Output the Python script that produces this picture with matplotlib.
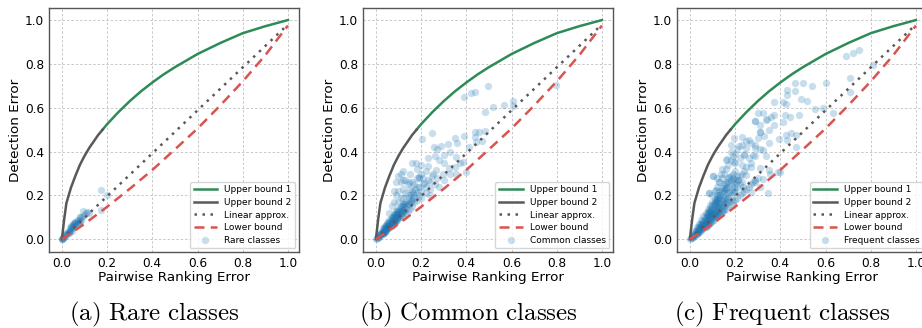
import numpy as np
import matplotlib
matplotlib.use('Agg')
import matplotlib.pyplot as plt

plt.rcParams['mathtext.fontset'] = 'cm'

# bound curves
ub1_x = [0.18, 0.2, 0.25, 0.3, 0.35, 0.4, 0.45, 0.5, 0.6, 0.7, 0.8, 0.9, 1.0]
ub1_y = [0.50, 0.525, 0.58, 0.63, 0.675, 0.715, 0.752, 0.785, 0.845, 0.895, 0.94, 0.972, 1.0]
ub2_x = [0.0, 0.01, 0.02, 0.04, 0.06, 0.08, 0.1, 0.12, 0.14, 0.16, 0.18]
ub2_y = [0.0, 0.09, 0.165, 0.235, 0.29, 0.34, 0.38, 0.415, 0.445, 0.475, 0.50]
lin_x = [0.0, 1.0]
lin_y = [0.0, 0.98]
lb_x = [0.0, 0.1, 0.2, 0.3, 0.4, 0.5, 0.6, 0.7, 0.8, 0.9, 1.0]
lb_y = [0.0, 0.07, 0.148, 0.23, 0.316, 0.41, 0.505, 0.61, 0.72, 0.84, 0.975]

rare_pts = [
    (0, 0), (0.005, 0.006), (0.01, 0.01), (0.01, 0.015), (0.015, 0.02), (0.02, 0.022), (0.02, 0.03),
    (0.025, 0.028), (0.03, 0.035), (0.03, 0.04), (0.035, 0.04), (0.04, 0.045), (0.04, 0.055),
    (0.045, 0.05), (0.05, 0.055), (0.05, 0.07), (0.055, 0.06), (0.06, 0.065), (0.06, 0.075),
    (0.065, 0.07), (0.07, 0.075), (0.07, 0.09), (0.075, 0.08), (0.08, 0.085), (0.08, 0.1),
    (0.085, 0.09), (0.09, 0.1), (0.1, 0.11), (0.105, 0.12), (0.11, 0.125), (0.06, 0.08),
    (0.05, 0.065), (0.04, 0.06), (0.093, 0.13), (0.081, 0.10), (0.171, 0.227), (0.2, 0.2),
    (0.171, 0.133), (0.12, 0.12), (0.0, 0.0), (0.03, 0.03), (0.02, 0.02), (0.045, 0.04),
    (0.0, 0.0), (0.005, 0.004), (0.035, 0.05), (0.055, 0.075), (0.065, 0.085),
]

common_pts = [
    (0, 0), (0.005, 0.005), (0.01, 0.008), (0.01, 0.015), (0.015, 0.012), (0.02, 0.018), (0.02, 0.03),
    (0.025, 0.022), (0.03, 0.025), (0.03, 0.04), (0.035, 0.03), (0.04, 0.035), (0.04, 0.05),
    (0.045, 0.04), (0.045, 0.06), (0.05, 0.045), (0.05, 0.06), (0.055, 0.05), (0.055, 0.07),
    (0.06, 0.055), (0.06, 0.075), (0.065, 0.06), (0.065, 0.085), (0.07, 0.06), (0.07, 0.08),
    (0.07, 0.1), (0.075, 0.07), (0.075, 0.09), (0.08, 0.07), (0.08, 0.095), (0.08, 0.115),
    (0.085, 0.08), (0.085, 0.1), (0.09, 0.085), (0.09, 0.11), (0.09, 0.13), (0.095, 0.09),
    (0.095, 0.12), (0.1, 0.095), (0.1, 0.115), (0.1, 0.14), (0.105, 0.1), (0.105, 0.13),
    (0.11, 0.11), (0.11, 0.15), (0.115, 0.12), (0.12, 0.1), (0.12, 0.135), (0.12, 0.16),
    (0.125, 0.13), (0.13, 0.12), (0.13, 0.15), (0.135, 0.17), (0.14, 0.13), (0.14, 0.16),
    (0.145, 0.19), (0.15, 0.14), (0.15, 0.175), (0.155, 0.2), (0.16, 0.15), (0.16, 0.18),
    (0.165, 0.21), (0.17, 0.17), (0.17, 0.2), (0.175, 0.23), (0.18, 0.18), (0.18, 0.21),
    (0.19, 0.2), (0.19, 0.24), (0.2, 0.19), (0.2, 0.22), (0.21, 0.25), (0.22, 0.21),
    (0.22, 0.24), (0.23, 0.27), (0.24, 0.23), (0.24, 0.26), (0.25, 0.29), (0.26, 0.25),
    (0.27, 0.28),
    (0.06, 0.12), (0.07, 0.15), (0.08, 0.17), (0.09, 0.2), (0.1, 0.22), (0.11, 0.19),
    (0.12, 0.23), (0.13, 0.21), (0.14, 0.25), (0.15, 0.23), (0.1, 0.17), (0.12, 0.19),
    (0.16, 0.26), (0.18, 0.28), (0.19, 0.28), (0.2, 0.3), (0.22, 0.31), (0.21, 0.28),
    (0.17, 0.25), (0.13, 0.27), (0.11, 0.3), (0.09, 0.26), (0.08, 0.22),
    (0.035, 0.045), (0.045, 0.05), (0.055, 0.06), (0.065, 0.07), (0.075, 0.08), (0.085, 0.09),
    (0.095, 0.1), (0.03, 0.03), (0.04, 0.04), (0.05, 0.05), (0.06, 0.065), (0.07, 0.07),
    (0.08, 0.085), (0.09, 0.095), (0.1, 0.105), (0.025, 0.03), (0.035, 0.035), (0.045, 0.045),
    (0.055, 0.055), (0.065, 0.065), (0.075, 0.075), (0.02, 0.02), (0.015, 0.02), (0.06, 0.09),
    (0.07, 0.095), (0.08, 0.105), (0.05, 0.075), (0.04, 0.06), (0.03, 0.05), (0.11, 0.13),
    (0.12, 0.145), (0.13, 0.16), (0.1, 0.125), (0.09, 0.115),
    (0.01, 0.012), (0.02, 0.024), (0.03, 0.034), (0.04, 0.044), (0.05, 0.052), (0.06, 0.06),
    (0.07, 0.068), (0.08, 0.078), (0.09, 0.09), (0.1, 0.1), (0.11, 0.118), (0.12, 0.125),
    (0.025, 0.035), (0.035, 0.05), (0.045, 0.065), (0.055, 0.08), (0.065, 0.09), (0.075, 0.1),
    (0.085, 0.11), (0.095, 0.13), (0.105, 0.14), (0.115, 0.15), (0.125, 0.16), (0.135, 0.14),
    (0.145, 0.16), (0.155, 0.17), (0.165, 0.19), (0.14, 0.2), (0.16, 0.22), (0.18, 0.24),
    (0.248, 0.483), (0.204, 0.456), (0.258, 0.422), (0.288, 0.425), (0.317, 0.434),
    (0.351, 0.463), (0.391, 0.473), (0.437, 0.465), (0.457, 0.489), (0.481, 0.494),
    (0.442, 0.445), (0.302, 0.384), (0.354, 0.376), (0.386, 0.351), (0.398, 0.308),
    (0.354, 0.297), (0.322, 0.323), (0.295, 0.30), (0.265, 0.316), (0.229, 0.334),
    (0.177, 0.346), (0.159, 0.346), (0.121, 0.313), (0.096, 0.288), (0.111, 0.262),
    (0.147, 0.262), (0.192, 0.285), (0.214, 0.258), (0.251, 0.30),
    (0.497, 0.70), (0.438, 0.672), (0.419, 0.666), (0.391, 0.648), (0.605, 0.633),
    (0.568, 0.611), (0.519, 0.605), (0.482, 0.581), (0.796, 0.703), (0.605, 0.61),
    (0.28, 0.36), (0.33, 0.4), (0.36, 0.44), (0.26, 0.38), (0.3, 0.35), (0.35, 0.33),
    (0.41, 0.42), (0.44, 0.49), (0.47, 0.45), (0.2, 0.34), (0.23, 0.37), (0.27, 0.41),
    (0.24, 0.2), (0.28, 0.24), (0.3, 0.27), (0.33, 0.3), (0.37, 0.35), (0.12, 0.27),
    (0.15, 0.3), (0.18, 0.32),
]

frequent_pts = [
    (0, 0), (0.005, 0.004), (0.01, 0.008), (0.01, 0.014), (0.015, 0.012), (0.015, 0.02),
    (0.02, 0.016), (0.02, 0.026), (0.025, 0.02), (0.025, 0.032), (0.03, 0.025), (0.03, 0.038),
    (0.035, 0.03), (0.035, 0.045), (0.04, 0.033), (0.04, 0.05), (0.045, 0.038), (0.045, 0.058),
    (0.05, 0.042), (0.05, 0.065), (0.055, 0.047), (0.055, 0.072), (0.06, 0.05), (0.06, 0.08),
    (0.065, 0.055), (0.065, 0.088), (0.07, 0.058), (0.07, 0.095), (0.075, 0.062), (0.075, 0.105),
    (0.08, 0.066), (0.08, 0.11), (0.085, 0.072), (0.085, 0.12), (0.09, 0.075), (0.09, 0.125),
    (0.095, 0.08), (0.095, 0.135), (0.1, 0.085), (0.1, 0.14), (0.105, 0.09), (0.105, 0.15),
    (0.11, 0.095), (0.11, 0.16), (0.115, 0.1), (0.115, 0.17), (0.12, 0.105), (0.12, 0.175),
    (0.125, 0.11), (0.125, 0.185), (0.13, 0.115), (0.13, 0.19), (0.135, 0.12), (0.135, 0.2),
    (0.14, 0.125), (0.14, 0.21), (0.145, 0.13), (0.15, 0.135), (0.15, 0.22), (0.16, 0.14),
    (0.16, 0.23), (0.17, 0.15), (0.17, 0.24), (0.18, 0.16), (0.18, 0.25), (0.19, 0.17),
    (0.19, 0.26), (0.2, 0.18), (0.2, 0.27), (0.21, 0.19), (0.22, 0.2), (0.22, 0.29),
    (0.23, 0.21), (0.24, 0.22), (0.24, 0.31), (0.25, 0.23), (0.26, 0.24), (0.27, 0.25),
    (0.28, 0.26), (0.29, 0.27), (0.3, 0.28),
    (0.02, 0.04), (0.03, 0.055), (0.04, 0.07), (0.05, 0.09), (0.06, 0.105), (0.07, 0.12),
    (0.08, 0.14), (0.09, 0.155), (0.1, 0.17), (0.11, 0.185), (0.12, 0.2), (0.13, 0.22),
    (0.14, 0.235), (0.15, 0.25), (0.16, 0.26), (0.17, 0.28), (0.18, 0.29), (0.19, 0.3),
    (0.2, 0.31), (0.08, 0.09), (0.09, 0.1), (0.1, 0.11), (0.11, 0.12), (0.12, 0.13),
    (0.13, 0.145), (0.14, 0.155), (0.15, 0.165), (0.16, 0.18), (0.17, 0.19), (0.18, 0.2),
    (0.19, 0.215), (0.2, 0.225), (0.21, 0.24), (0.22, 0.25), (0.23, 0.26), (0.06, 0.065),
    (0.07, 0.075), (0.05, 0.055), (0.04, 0.045), (0.03, 0.035), (0.1, 0.12), (0.11, 0.135),
    (0.12, 0.15), (0.09, 0.11), (0.08, 0.1), (0.07, 0.085), (0.06, 0.075), (0.13, 0.165),
    (0.14, 0.18), (0.15, 0.19), (0.16, 0.2), (0.065, 0.1), (0.075, 0.115), (0.085, 0.13),
    (0.095, 0.145), (0.105, 0.16), (0.115, 0.18), (0.125, 0.195),
    (0.01, 0.011), (0.02, 0.021), (0.03, 0.03), (0.04, 0.04), (0.05, 0.05), (0.06, 0.058),
    (0.07, 0.066), (0.08, 0.076), (0.09, 0.086), (0.1, 0.096), (0.11, 0.106), (0.12, 0.116),
    (0.13, 0.13), (0.14, 0.14), (0.15, 0.15), (0.16, 0.16), (0.17, 0.17), (0.18, 0.18),
    (0.025, 0.04), (0.035, 0.055), (0.045, 0.07), (0.055, 0.085), (0.065, 0.072),
    (0.075, 0.09), (0.085, 0.1), (0.095, 0.12), (0.105, 0.125), (0.115, 0.14),
    (0.125, 0.15), (0.135, 0.16), (0.145, 0.175), (0.155, 0.185), (0.165, 0.21),
    (0.175, 0.215), (0.185, 0.23), (0.195, 0.24), (0.205, 0.255), (0.215, 0.27),
    (0.045, 0.05), (0.055, 0.06), (0.065, 0.065), (0.075, 0.08), (0.085, 0.09),
    (0.095, 0.1), (0.105, 0.11), (0.115, 0.125), (0.125, 0.14), (0.135, 0.145),
    (0.08, 0.125), (0.09, 0.14), (0.1, 0.155), (0.11, 0.17), (0.12, 0.185), (0.13, 0.2),
    (0.14, 0.22), (0.15, 0.235), (0.16, 0.25), (0.17, 0.26), (0.18, 0.27), (0.19, 0.28),
    (0.1, 0.2), (0.11, 0.22), (0.12, 0.24), (0.13, 0.26), (0.14, 0.28), (0.15, 0.3),
    (0.16, 0.32), (0.17, 0.34), (0.18, 0.36), (0.19, 0.38), (0.2, 0.39), (0.12, 0.28),
    (0.14, 0.32), (0.16, 0.36), (0.18, 0.4), (0.21, 0.41), (0.23, 0.43), (0.25, 0.45),
    (0.2, 0.35), (0.22, 0.37), (0.24, 0.39), (0.26, 0.37), (0.27, 0.44), (0.29, 0.43),
    (0.25, 0.33), (0.23, 0.3), (0.21, 0.29), (0.27, 0.35), (0.29, 0.38), (0.31, 0.41),
    (0.33, 0.47), (0.35, 0.5), (0.31, 0.52), (0.34, 0.55),
    (0.101, 0.288), (0.101, 0.288), (0.086, 0.212), (0.086, 0.212), (0.286, 0.541),
    (0.286, 0.541), (0.308, 0.491), (0.308, 0.491),
    (0.197, 0.460), (0.231, 0.465), (0.263, 0.453), (0.182, 0.430), (0.219, 0.425),
    (0.249, 0.415), (0.286, 0.415), (0.322, 0.407), (0.241, 0.384), (0.278, 0.384),
    (0.337, 0.38), (0.163, 0.364), (0.197, 0.354), (0.231, 0.338), (0.271, 0.331),
    (0.308, 0.323), (0.352, 0.316), (0.389, 0.308), (0.138, 0.30), (0.175, 0.285),
    (0.212, 0.27), (0.249, 0.293), (0.286, 0.262), (0.322, 0.277), (0.130, 0.262),
    (0.115, 0.224), (0.160, 0.232), (0.197, 0.216), (0.234, 0.239), (0.271, 0.216),
    (0.308, 0.239), (0.345, 0.209), (0.300, 0.460), (0.396, 0.456), (0.352, 0.4375),
    (0.426, 0.476), (0.448, 0.483), (0.430, 0.453), (0.470, 0.422), (0.470, 0.476),
    (0.370, 0.521), (0.411, 0.537), (0.441, 0.556), (0.481, 0.567), (0.419, 0.567),
    (0.374, 0.567), (0.337, 0.544), (0.300, 0.578), (0.322, 0.575), (0.370, 0.628),
    (0.411, 0.625), (0.493, 0.640), (0.52, 0.631), (0.43, 0.66), (0.43, 0.681),
    (0.466, 0.678), (0.466, 0.712), (0.50, 0.712), (0.54, 0.70), (0.604, 0.712),
    (0.707, 0.674), (0.707, 0.735), (0.808, 0.796), (0.692, 0.837), (0.722, 0.849),
    (0.749, 0.864), (0.552, 0.594), (0.587, 0.599), (0.632, 0.576), (0.427, 0.617),
    (0.36, 0.56), (0.398, 0.308), (0.354, 0.297),
]

panels = [
    (rare_pts, 'Rare classes', '(a)'),
    (common_pts, 'Common classes', '(b)'),
    (frequent_pts, 'Frequent classes', '(c)'),
]

fig = plt.figure(figsize=(9.22, 3.28), dpi=100)
lefts = [49, 363, 677]
for (pts, name, tag), left in zip(panels, lefts):
    ax = fig.add_axes([left / 922, 76 / 328, 250 / 922, 244 / 328])
    px = [p[0] for p in pts]
    py = [p[1] for p in pts]
    ax.plot(ub1_x, ub1_y, color='#2e8b57', lw=1.8, label='Upper bound 1', zorder=3)
    ax.plot(ub2_x, ub2_y, color='#595959', lw=1.8, label='Upper bound 2', zorder=3)
    ax.plot(lin_x, lin_y, color='#595959', lw=1.8, ls=(0, (1, 2.2)), label='Linear approx.', zorder=3)
    ax.plot(lb_x, lb_y, color='#d9534f', lw=1.8, ls=(0, (4, 2.5)), label='Lower bound', zorder=3)
    ax.scatter(px, py, s=28, color='#1f77b4', alpha=0.24, linewidths=0, label=name, zorder=2)
    ax.set_xlim(-0.057, 1.049)
    ax.set_ylim(-0.058, 1.055)
    ax.set_xticks([0, 0.2, 0.4, 0.6, 0.8, 1.0])
    ax.set_yticks([0, 0.2, 0.4, 0.6, 0.8, 1.0])
    ax.tick_params(labelsize=8.7, length=0, pad=3.5)
    ax.grid(True, ls=(0, (2.5, 2)), color='#c8c8c8', lw=0.7)
    ax.set_axisbelow(True)
    for s in ax.spines.values():
        s.set_color('#555555')
        s.set_linewidth(1.0)
    ax.set_xlabel('Pairwise Ranking Error', fontsize=9.7, labelpad=1)
    ax.set_ylabel('Detection Error', fontsize=9.7, labelpad=2)
    ax.legend(loc='lower right', fontsize=6.5, handlelength=2.6, labelspacing=0.4,
              borderaxespad=0.4, edgecolor='#cccccc')
    cx = (left + 105) / 922
    fig.text(cx, 0.04, r'$\mathrm{%s\ %s}$' % (tag, name.replace(' ', r'\ ')),
             fontsize=18, ha='center', va='center')

fig.savefig('out.png', dpi=100)
